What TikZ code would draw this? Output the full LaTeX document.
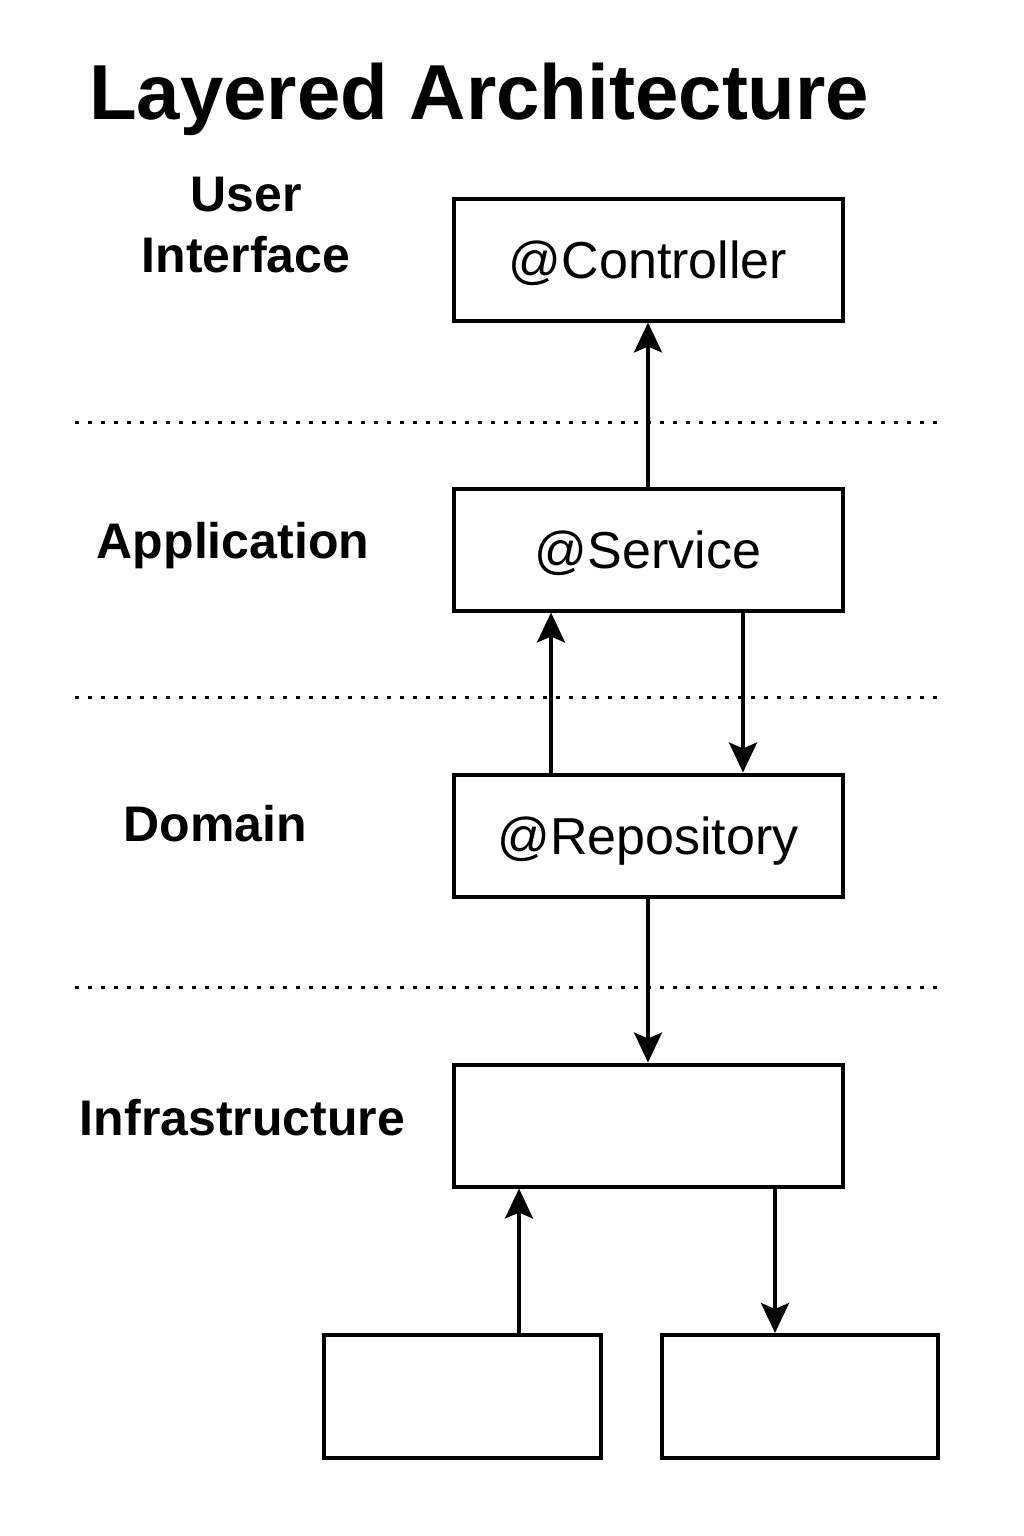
\documentclass[tikz,border=0pt]{standalone}
\usepackage{fontspec}
\setmainfont{Liberation Sans}
\usetikzlibrary{arrows.meta}
\begin{document}
\begin{tikzpicture}[x=1pt,y=-1pt,
  layerbox/.style={draw,line width=4pt,minimum width=389pt,minimum height=122pt,inner sep=0pt,
    font=\fontsize{52}{60}\selectfont,text height=37pt,text depth=0pt},
  smallbox/.style={draw,line width=4pt,minimum width=276pt,minimum height=123pt,inner sep=0pt},
  lbl/.style={font=\fontsize{50}{62}\selectfont\bfseries,anchor=base,inner sep=0pt},
  sep/.style={line width=3pt,dash pattern=on 3.5pt off 9.5pt},
  arr/.style={line width=3.5pt,-{Stealth[length=30pt,width=28pt,inset=6pt]}}]
\useasboundingbox (0,0) rectangle (1024,1536);
% title
\node[anchor=base west,inner sep=0pt,font=\fontsize{78}{90}\selectfont\bfseries] (title) at (89,120) {Layered Architecture};
% dotted separators
\coordinate (s1a) at (75,422); \coordinate (s1b) at (940,422);
\coordinate (s2a) at (75,697); \coordinate (s2b) at (940,697);
\coordinate (s3a) at (75,987); \coordinate (s3b) at (940,987);
\draw[sep] (s1a) -- (s1b);
\draw[sep] (s2a) -- (s2b);
\draw[sep] (s3a) -- (s3b);
% labels
\node[lbl] (lui) at (246,211) {User};
\node[lbl] (lui2) at (246,272) {Interface};
\node[lbl] (lapp) at (233,558) {Application};
\node[lbl] (ldom) at (215.5,841) {Domain};
\node[lbl] (linf) at (242.5,1135) {Infrastructure};
% boxes
\node[layerbox] (ctl) at (648,259.5) {@Controller};
\node[layerbox] (svc) at (648,549.5) {@Service};
\node[layerbox] (rep) at (648,835.5) {@Repository};
\node[layerbox] (inf) at (648,1125.5) {};
\node[smallbox,minimum width=277pt] (bl) at (462,1396.5) {};
\node[smallbox] (br) at (799.5,1396.5) {};
% arrows
\draw[arr] (svc.north) -- (ctl.south);
\draw[arr] ([xshift=-97pt]rep.north) -- ([xshift=-97pt]svc.south);
\draw[arr] ([xshift=95pt]svc.south) -- ([xshift=95pt]rep.north);
\draw[arr] (rep.south) -- (inf.north);
\draw[arr] ([xshift=57pt]bl.north) -- ([xshift=57pt]bl.north |- inf.south);
\draw[arr] ([xshift=-24.5pt]br.north |- inf.south) -- ([xshift=-24.5pt]br.north);
\end{tikzpicture}
\end{document}
